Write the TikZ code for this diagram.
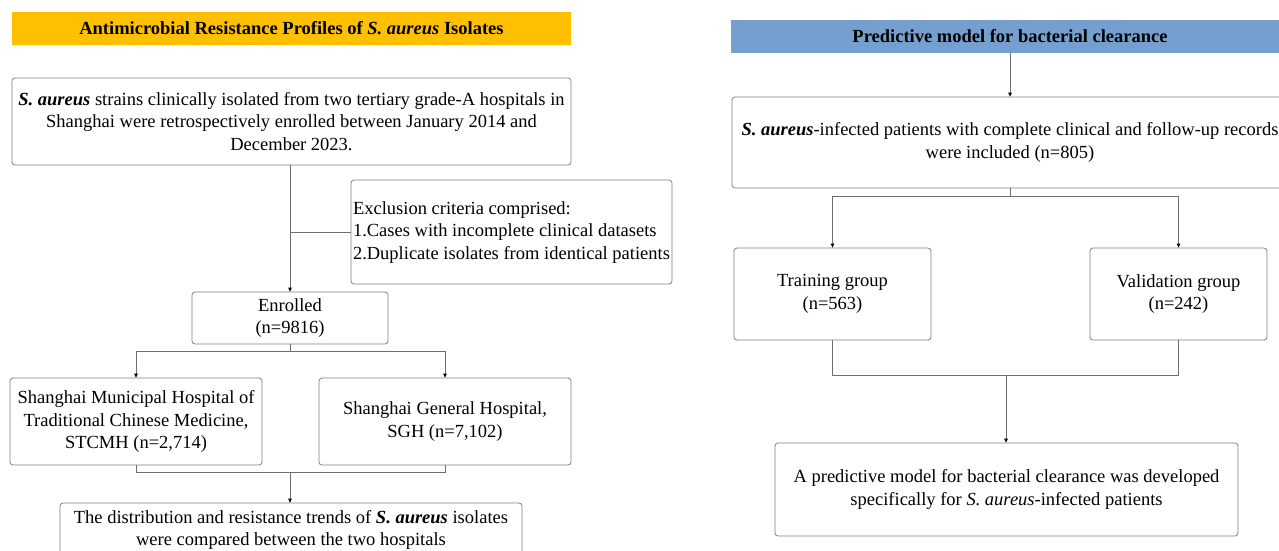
\documentclass[tikz,border=0pt]{standalone}
\usepackage{fontspec}
\setmainfont{Liberation Serif}
\usetikzlibrary{arrows.meta}
\definecolor{boxgray}{RGB}{128,128,128}
\definecolor{lngray}{RGB}{110,110,110}
\definecolor{ttlyellow}{RGB}{255,192,0}
\definecolor{ttlblue}{RGB}{116,159,206}
\tikzset{
  fbox/.style={draw=boxgray, line width=0.8pt, rounded corners=3pt, align=center,
    inner sep=1pt, font=\fontsize{18.5}{22.5}\selectfont},
  ttl/.style={draw=none, inner sep=0pt, align=center, font=\fontsize{18.5}{22}\selectfont\bfseries},
  conn/.style={draw=lngray, line width=0.8pt},
  arr/.style={conn, -{Triangle[length=4pt,width=3.6pt,fill=black,color=black]}}
}
\begin{document}
\begin{tikzpicture}[x=1pt,y=-1pt]
\useasboundingbox (0,0) rectangle (1279,550);
\clip (0,0) rectangle (1279,550);
% ---------- left ----------
\node[ttl, fill=ttlyellow, minimum width=559pt, minimum height=33pt] (t1) at (291.5,28.5)
  {Antimicrobial Resistance Profiles of \textit{S. aureus} Isolates};
\node[fbox, minimum width=559pt, minimum height=87pt] (b1) at (291.5,121.5)
  {\textbf{\textit{S. aureus}} strains clinically isolated from two tertiary grade-A hospitals in\\
   Shanghai were retrospectively enrolled between January 2014 and\\
   December 2023.};
\node[fbox, minimum width=321pt, minimum height=104pt] (ex) at (511.5,232)
  {\makebox[317pt][l]{\begin{tabular}{@{}l@{}}Exclusion criteria comprised:\\
   1.Cases with incomplete clinical datasets\\
   2.Duplicate isolates from identical patients\end{tabular}}};
\node[fbox, minimum width=196pt, minimum height=52pt] (enr) at (290,318)
  {Enrolled\\(n=9816)};
\node[fbox, minimum width=252pt, minimum height=87pt] (stc) at (136,421.5)
  {Shanghai Municipal Hospital of\\Traditional Chinese Medicine,\\STCMH (n=2,714)};
\node[fbox, minimum width=252pt, minimum height=87pt] (sgh) at (445,421.5)
  {Shanghai General Hospital,\\SGH (n=7,102)};
\node[fbox, minimum width=462pt, minimum height=54pt] (fin1) at (291,530)
  {The distribution and resistance trends of \textbf{\textit{S. aureus}} isolates\\
   were compared between the two hospitals};
\coordinate (j0) at (290,351);
\coordinate (j1) at (290,472);
\draw[arr] (b1.south -| enr.north) -- (enr.north);
\draw[conn] (enr.north |- ex.west) -- (ex.west);
\draw[conn] (enr.south) -- (j0);
\draw[arr] (j0) -| (stc.north);
\draw[arr] (j0) -| (sgh.north);
\draw[conn] (stc.south) |- (j1);
\draw[conn] (sgh.south) |- (j1);
\draw[arr] (j1) -- (j1 |- fin1.north);
% ---------- right ----------
\node[ttl, fill=ttlblue, minimum width=558pt, minimum height=33pt] (t2) at (1010,36.5)
  {Predictive model for bacterial clearance};
\node[fbox, minimum width=556pt, minimum height=91pt] (inc) at (1010,142.5)
  {\textbf{\textit{S. aureus}}-infected patients with complete clinical and follow-up records\\
   were included (n=805)};
\node[fbox, minimum width=197pt, minimum height=92pt] (tr) at (832.5,294)
  {Training group\\(n=563)};
\node[fbox, minimum width=177pt, minimum height=92pt] (va) at (1178.5,294)
  {Validation group\\(n=242)};
\node[fbox, minimum width=463pt, minimum height=93pt] (fin2) at (1006.5,489.5)
  {A predictive model for bacterial clearance was developed\\
   specifically for \textit{S. aureus}-infected patients};
\coordinate (j2) at (1010,196);
\coordinate (j3) at (1006,375);
\draw[arr] (t2.south) -- (inc.north);
\draw[conn] (inc.south) -- (j2);
\draw[arr] (j2) -| (tr.north);
\draw[arr] (j2) -| (va.north);
\draw[conn] (tr.south) |- (j3);
\draw[conn] (va.south) |- (j3);
\draw[arr] (j3) -- (j3 |- fin2.north);
\end{tikzpicture}
\end{document}
